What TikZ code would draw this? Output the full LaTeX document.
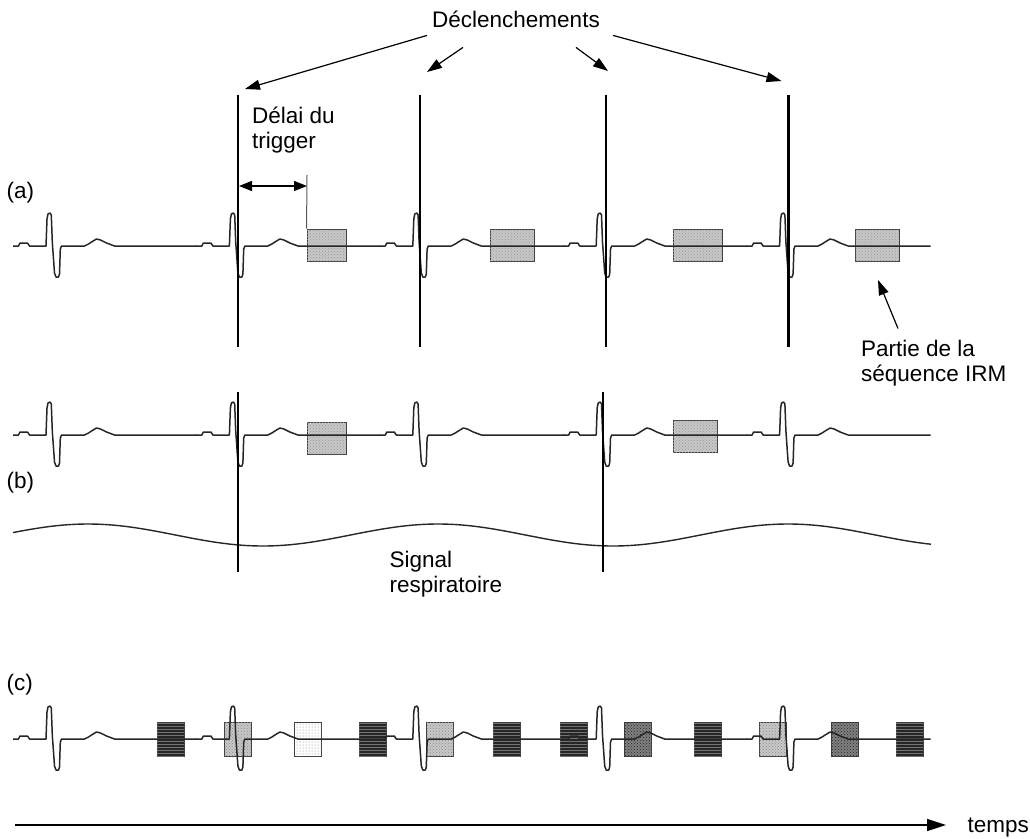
\documentclass[tikz,border=0pt]{standalone}
\usepackage{fontspec}
\setmainfont{Liberation Sans}
\usetikzlibrary{arrows.meta,patterns}
\tikzset{ecg/.style={line width=1.5pt, black!85, line join=round},
  trig/.style={line width=2.4pt},
  resp/.style={line width=1.4pt, black!85},
  lbl/.style={font=\fontsize{22.5}{25}\selectfont, inner sep=0pt},
  ptr/.style={line width=1.2pt, -{Triangle[length=15pt,width=10pt]}},
  dbl/.style={line width=1.2pt, {Triangle[length=13pt,width=10pt]}-{Triangle[length=13pt,width=10pt]}},
  axis/.style={line width=1.4pt, -{Triangle[length=19pt,width=12pt]}},
  tick/.style={line width=1pt, black!65},
  irm/.style={draw=black!75, line width=0.9pt, fill=black!22, postaction={pattern=crosshatch dots, pattern color=black!40}, minimum height=32pt, inner sep=0pt},
  seqbox/.style={draw=black!75, line width=0.9pt, minimum width=27pt, minimum height=34pt, inner sep=0pt},
  seqdark/.style={seqbox, fill=black!85, postaction={pattern=horizontal lines, pattern color=black!55}},
  seqgrey/.style={seqbox, fill=black!22, postaction={pattern=crosshatch dots, pattern color=black!45}},
  seqdots/.style={seqbox, fill=white, postaction={pattern=dots, pattern color=black!50}},
  seqcross/.style={seqbox, fill=black!50, postaction={pattern=crosshatch dots, pattern color=black!85}}}
% one heart beat, QRS rise at the origin
\newcommand{\ecgbeat}{%
  \draw[ecg] (-33.5,0) -- (-28,0) -- (-26.5,-3) -- (-19,-3) -- (-17,0)
    -- (-0.5,0) -- (0.5,-27) -- (1.5,-32) -- (3.5,-33) -- (4.8,-31) -- (5.8,-4)
    -- (6.8,10) -- (8,27) -- (9.5,31) -- (12,31) -- (13,28) -- (13.8,3) -- (15,0)
    -- (38,0) -- (42,-2) -- (45,-4) -- (50,-7) -- (54,-6) -- (60,-3) -- (68,0) -- (150.5,0);}

\begin{document}
\begin{tikzpicture}[x=1pt,y=-1pt]
  \useasboundingbox (0,0) rectangle (1030,838);
  % titles
  \node[lbl, anchor=base west, inner sep=5pt] (decl) at (427,27) {Déclenchements};
  \node[lbl, align=left, anchor=north west] (delai) at (252,106.5) {Délai du\\trigger};
  \node[lbl, align=left, anchor=north west] (partie) at (861,339.5) {Partie de la\\séquence IRM};
  \node[lbl, align=left, anchor=north west] (signal) at (389.5,550.5) {Signal\\respiratoire};
  \node[lbl, anchor=base west] (temps) at (967.5,832) {temps};
  \node[lbl, anchor=base west] (la) at (6.5,198.5) {(a)};
  \node[lbl, anchor=base west] (lb) at (6.5,488.5) {(b)};
  \node[lbl, anchor=base west] (lc) at (6.5,690.5) {(c)};

  % (a)
  \node[irm, minimum width=39pt] (sa1) at (326.5,245) {};
  \node[irm, minimum width=44pt] (sa2) at (512,245) {};
  \node[irm, minimum width=49pt] (sa3) at (697.5,245) {};
  \node[irm, minimum width=44pt] (sa4) at (877,245) {};
  \begin{scope}[shift={(46.5,246)}] \ecgbeat \end{scope}
  \begin{scope}[shift={(229.9,246)}] \ecgbeat \end{scope}
  \begin{scope}[shift={(413.3,246)}] \ecgbeat \end{scope}
  \begin{scope}[shift={(596.7,246)}] \ecgbeat \end{scope}
  \begin{scope}[shift={(780.1,246)}] \ecgbeat \end{scope}
  \coordinate (a1t) at (238,95);  \coordinate (a1b) at (238,347);
  \coordinate (a2t) at (420,95);  \coordinate (a2b) at (420,347);
  \coordinate (a3t) at (606,95);  \coordinate (a3b) at (606,347);
  \coordinate (a4t) at (788.5,95); \coordinate (a4b) at (788.5,347);
  \draw[trig] (a1t) -- (a1b);
  \draw[trig] (a2t) -- (a2b);
  \draw[trig] (a3t) -- (a3b);
  \draw[trig] (a4t) -- (a4b);
  \coordinate (ha1) at (245,89);
  \coordinate (ha2) at (427,72);
  \coordinate (ha3) at (608,71);
  \coordinate (ha4) at (781.5,81);
  \draw[ptr] ([shift={(0,3)}]decl.south west) -- (ha1);
  \draw[ptr] ([shift={(-53,15)}]decl.south) -- (ha2);
  \draw[ptr] ([shift={(60,15)}]decl.south) -- (ha3);
  \draw[ptr] ([shift={(8,3)}]decl.south east) -- (ha4);
  \coordinate (dl) at (239,186);
  \coordinate (dr) at (307,186);
  \coordinate (dt) at (307,175);
  \draw[dbl] (dl) -- (dr);
  \draw[tick] (dt) -- (sa1.north west);
  \coordinate (pa) at (878,280);
  \draw[ptr] ([shift={(37,-11)}]partie.north west) -- (pa);

  % (b)
  \node[irm, minimum width=39pt] (sb1) at (326.5,438) {};
  \node[irm, minimum width=44pt] (sb2) at (695,436) {};
  \begin{scope}[shift={(46.5,435)}] \ecgbeat \end{scope}
  \begin{scope}[shift={(229.9,435)}] \ecgbeat \end{scope}
  \begin{scope}[shift={(413.3,435)}] \ecgbeat \end{scope}
  \begin{scope}[shift={(596.7,435)}] \ecgbeat \end{scope}
  \begin{scope}[shift={(780.1,435)}] \ecgbeat \end{scope}
  \draw[resp] plot[domain=13:931, samples=120, smooth] (\x, {535+11*cos((\x-263)/350*360)});
  \coordinate (b1t) at (238,392); \coordinate (b1b) at (238,572);
  \coordinate (b2t) at (603,392); \coordinate (b2b) at (603,572);
  \draw[trig] (b1t) -- (b1b);
  \draw[trig] (b2t) -- (b2b);

  % (c)
  \node[seqdark]  (sc1)  at (170.5,739) {};
  \node[seqgrey]  (sc2)  at (238,739) {};
  \node[seqdots]  (sc3)  at (308,739) {};
  \node[seqdark]  (sc4)  at (372.5,739) {};
  \node[seqgrey]  (sc5)  at (440,739) {};
  \node[seqdark]  (sc6)  at (506.5,739) {};
  \node[seqdark]  (sc7)  at (573.5,739) {};
  \node[seqcross] (sc8)  at (637.5,739) {};
  \node[seqdark]  (sc9)  at (707.5,739) {};
  \node[seqgrey]  (sc10) at (772.5,739) {};
  \node[seqcross] (sc11) at (844.5,739) {};
  \node[seqdark]  (sc12) at (909.5,739) {};
  \begin{scope}[shift={(46.5,739)}] \ecgbeat \end{scope}
  \begin{scope}[shift={(229.9,739)}] \ecgbeat \end{scope}
  \begin{scope}[shift={(413.3,739)}] \ecgbeat \end{scope}
  \begin{scope}[shift={(596.7,739)}] \ecgbeat \end{scope}
  \begin{scope}[shift={(780.1,739)}] \ecgbeat \end{scope}

  % time axis
  \coordinate (t0) at (15,825);
  \coordinate (t1) at (946,825);
  \draw[axis] (t0) -- (t1);
\end{tikzpicture}
\end{document}
